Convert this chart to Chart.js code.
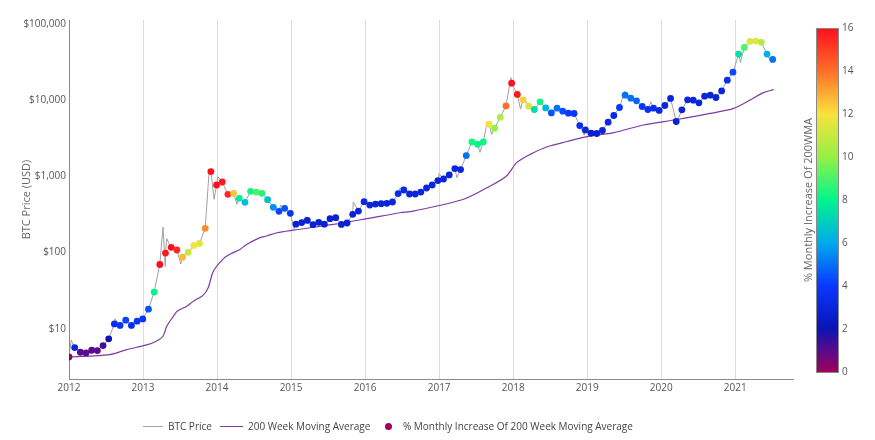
<!DOCTYPE html>
<html>
<head>
<meta charset="utf-8">
<script src="https://cdn.jsdelivr.net/npm/chart.js@4.4.0/dist/chart.umd.min.js"></script>
<style>
  body { margin: 0; background: #fff; }
  #wrap { position: relative; width: 875px; height: 440px; font-family: "Open Sans", sans-serif; }
  .leg { position: absolute; font-size: 10px; color: #444; line-height: 14px; white-space: nowrap; top: 419px; }
  .legLine { position: absolute; height: 0; top: 426px; }
  .legDot { position: absolute; width: 7px; height: 7px; border-radius: 50%; top: 422.5px; }
</style>
</head>
<body>
<div id="wrap">
  <canvas id="chart" width="875" height="440"></canvas>
  <div class="legLine" style="left:143px;width:20px;border-top:1.5px solid #a0a0a0"></div>
  <div class="leg" style="left:168px">BTC Price</div>
  <div class="legLine" style="left:220px;width:23px;border-top:1.5px solid rgb(125,60,160)"></div>
  <div class="leg" style="left:248px">200 Week Moving Average</div>
  <div class="legDot" style="left:384.5px;background:rgb(160,0,90)"></div>
  <div class="leg" style="left:403px">% Monthly Increase Of 200 Week Moving Average</div>
</div>
<script>
// 4-weekly samples, first one at 2012-01-01
const sampleStart = 2012;
const sampleStepDays = 28;

// BTC close at each sample (USD)
const pointUsd = [
  4.29, 5.68, 4.93, 4.84, 5.24, 5.19, 6.04, 7.40, 11.6, 11.1,
  13.0, 11.1, 12.6, 13.5, 18.1, 30.3, 69.8, 98.4, 117, 108,
  87.1, 101, 124, 132, 208, 1153, 769, 842, 580, 598,
  514, 456, 636, 622, 598, 494, 392, 347, 380, 327,
  236, 247, 264, 232, 249, 236, 278, 287, 234, 244,
  317, 350, 465, 420, 433, 438, 442, 460, 593, 661,
  586, 586, 622, 702, 769, 879, 922, 1041, 1262, 1225,
  1871, 2820, 2631, 2820, 4819, 4266, 5954, 8375, 16640, 11830,
  10050, 8300, 7510, 9460, 7890, 6780, 7810, 7140, 6720, 6660,
  4630, 4060, 3670, 3640, 3985, 5120, 6270, 7980, 11580, 10580,
  9750, 8230, 7510, 7820, 7300, 8480, 10480, 5230, 7430, 10050,
  9950, 9180, 11240, 11580, 10790, 13180, 18220, 23200, 40000, 48980,
  58750, 59300, 57000, 40000, 34070
];

// % monthly increase of the 200WMA at each sample
const pointPct = [
  0.3, 3, 1, 1, 1, 1, 1.3, 2, 3.5, 3.8,
  4.2, 3.5, 3.8, 3.8, 4.5, 8, 16, 15.8, 16, 15.5,
  12.7, 11, 11.8, 11.5, 13.5, 16, 16, 15.8, 15.5, 12.5,
  7.8, 6.5, 8.2, 9, 8.5, 6.5, 5.5, 4.2, 4.5, 4,
  2.8, 2.8, 2.8, 2.8, 2.8, 2.8, 2.8, 2.8, 2.8, 2.8,
  2.8, 3, 3.2, 3, 3, 3, 3, 3, 3.3, 3.2,
  3, 3, 3, 3, 3, 3, 3, 3, 3, 3,
  5, 8.3, 8, 8.2, 11.8, 10, 10.5, 14, 16, 15.8,
  12.3, 11.3, 7.3, 8.2, 6.3, 4.5, 5, 4.3, 4, 4,
  3.5, 3, 2.7, 2.7, 3, 3.2, 3.2, 4, 5, 5,
  4.8, 4, 3.5, 3.5, 3.3, 3, 3, 2.8, 3, 3,
  3, 3, 3, 3, 3, 3, 3.5, 4.3, 7.5, 9,
  11.3, 11.5, 10.5, 6.2, 5
];

// intraperiod highs / lows of the price line between samples
const spikeYears = [2012.03, 2012.62, 2013.27, 2013.30, 2013.32, 2013.51, 2013.895, 2013.96, 2014.01, 2014.27,
  2014.86, 2015.04, 2015.2, 2015.84, 2016.47, 2017.0, 2017.24, 2017.55, 2017.635, 2017.71,
  2017.97, 2018.10, 2018.15, 2018.51, 2018.96, 2019.51, 2019.86, 2020.21, 2021.07, 2021.28, 2021.45];
const spikeUsd = [7.1, 13.5, 216, 66, 152, 71, 1240, 500, 990, 430,
  420, 205, 296, 460, 700, 1085, 960, 2060, 4370, 3550,
  19700, 7600, 10500, 6250, 3450, 13100, 9500, 5100, 31000, 62000, 35500];

// 200 week moving average
const wmaYears = [2012.0, 2012.55, 2012.78, 2013.06, 2013.19, 2013.27, 2013.32, 2013.41, 2013.46, 2013.59,
  2013.68, 2013.81, 2013.88, 2013.95, 2014.09, 2014.18, 2014.31, 2014.40, 2014.58, 2014.67,
  2014.81, 2015.03, 2015.57, 2016.02, 2016.47, 2016.65, 2017.33, 2017.69, 2017.91, 2018.05,
  2018.23, 2018.46, 2018.73, 2019.00, 2019.36, 2019.76, 2020.21, 2020.66, 2020.98, 2021.20,
  2021.38, 2021.52];
const wmaUsd = [4.29, 4.6, 5.35, 6.2, 7.0, 8.0, 10.8, 14.6, 17.0, 19.8,
  23.0, 27.5, 34.6, 57, 84, 96, 110, 128, 157, 165,
  182, 197, 234, 278, 333, 350, 500, 748, 1010, 1520,
  1940, 2440, 2860, 3320, 3740, 4700, 5550, 6670, 7760, 10000,
  12500, 13700];

const yearTicks = [2012, 2013, 2014, 2015, 2016, 2017, 2018, 2019, 2020, 2021];
const usdTicks = [10, 100, 1000, 10000, 100000];
const pctTicks = [0, 2, 4, 6, 8, 10, 12, 14, 16];

// colour scale for the % monthly increase
const colorStops = [
  [0, [160, 0, 90]], [1, [90, 10, 140]], [2, [10, 20, 180]], [4, [10, 55, 255]],
  [6, [0, 170, 235]], [8, [0, 245, 140]], [10, [150, 240, 70]], [12, [250, 225, 60]],
  [14, [255, 110, 40]], [16, [255, 15, 30]]
];
const pctMax = 16;

function pctColor(v) {
  v = Math.max(0, Math.min(pctMax, v));
  for (let i = 1; i < colorStops.length; i++) {
    const [v1, c1] = colorStops[i];
    const [v0, c0] = colorStops[i - 1];
    if (v <= v1) {
      const t = (v - v0) / (v1 - v0);
      const c = c0.map((a, k) => Math.round(a + (c1[k] - a) * t));
      return `rgb(${c[0]},${c[1]},${c[2]})`;
    }
  }
  return 'rgb(255,15,30)';
}

const pointYears = pointUsd.map((_, i) => sampleStart + i * sampleStepDays / 365.25);
const scatterData = pointUsd.map((v, i) => ({ x: pointYears[i], y: v }));
const priceData = scatterData
  .concat(spikeYears.map((x, i) => ({ x: x, y: spikeUsd[i] })))
  .sort((a, b) => a.x - b.x);
const wmaData = wmaYears.map((x, i) => ({ x: x, y: wmaUsd[i] }));

const font = { family: '"Open Sans", sans-serif', size: 10 };

const colorbar = {
  id: 'colorbar',
  afterDraw(chart) {
    const s = chart.scales.cb;
    const ctx = chart.ctx;
    const x0 = s.left + 23, w = 22;
    const yTop = s.getPixelForValue(pctMax), yBot = s.getPixelForValue(0);
    const g = ctx.createLinearGradient(0, yBot, 0, yTop);
    colorStops.forEach(([v, c]) => g.addColorStop(v / pctMax, `rgb(${c[0]},${c[1]},${c[2]})`));
    ctx.save();
    ctx.fillStyle = g;
    ctx.fillRect(x0, yTop, w, yBot - yTop);
    ctx.strokeStyle = '#8a8a8a';
    ctx.lineWidth = 1;
    ctx.strokeRect(x0 + 0.5, yTop + 0.5, w, yBot - yTop);
    ctx.translate(s.left + 16, (yTop + yBot) / 2);
    ctx.rotate(-Math.PI / 2);
    ctx.font = '11px "Open Sans", sans-serif';
    ctx.fillStyle = '#666';
    ctx.textAlign = 'center';
    ctx.textBaseline = 'middle';
    ctx.fillText('% Monthly Increase Of 200WMA', 0, 0);
    ctx.restore();
  }
};

new Chart(document.getElementById('chart'), {
  data: {
    datasets: [
      {
        type: 'scatter',
        label: '% Monthly Increase Of 200 Week Moving Average',
        data: scatterData,
        pointRadius: 3.4,
        pointBorderWidth: 0,
        pointBackgroundColor: pointPct.map(pctColor),
        order: 0
      },
      {
        type: 'line',
        label: 'BTC Price',
        data: priceData,
        borderColor: '#a0a0a0',
        borderWidth: 1,
        pointRadius: 0,
        tension: 0,
        order: 1
      },
      {
        type: 'line',
        label: '200 Week Moving Average',
        data: wmaData,
        borderColor: 'rgb(125,60,160)',
        borderWidth: 1.2,
        pointRadius: 0,
        tension: 0.3,
        order: 2
      }
    ]
  },
  options: {
    responsive: false,
    animation: false,
    layout: { padding: { top: 20, left: 0, right: 0, bottom: 0 } },
    plugins: { legend: { display: false }, tooltip: { enabled: false } },
    scales: {
      x: {
        type: 'linear',
        min: 2012,
        max: 2021.78,
        afterFit: s => { s.height = 61; },
        afterBuildTicks: s => { s.ticks = yearTicks.map(v => ({ value: v })); },
        grid: { color: '#dcdcdc', drawTicks: false },
        border: { color: '#8a8a8a' },
        ticks: { font: font, color: '#555', padding: 3, callback: v => String(v) }
      },
      y: {
        type: 'logarithmic',
        min: 2.2,
        max: 112000,
        afterFit: s => { s.width = 69; s.paddingTop = 0; s.paddingBottom = 0; },
        afterBuildTicks: s => { s.ticks = usdTicks.map(v => ({ value: v })); },
        grid: { display: false, drawTicks: false },
        border: { color: '#8a8a8a' },
        ticks: { font: font, color: '#555', padding: 3, callback: v => '$' + Number(v).toLocaleString('en-US') },
        title: { display: true, text: 'BTC Price (USD)', color: '#666', font: { family: font.family, size: 11 }, padding: { top: 20 } }
      },
      cb: {
        type: 'linear',
        position: 'right',
        min: -0.3256,
        max: 16.372,
        afterFit: s => { s.width = 82; s.paddingTop = 0; s.paddingBottom = 0; },
        afterBuildTicks: s => { s.ticks = pctTicks.map(v => ({ value: v })); },
        grid: { display: false, drawTicks: false },
        border: { display: false },
        ticks: { font: font, color: '#555', padding: 49 }
      }
    }
  },
  plugins: [colorbar]
});
</script>
</body>
</html>
